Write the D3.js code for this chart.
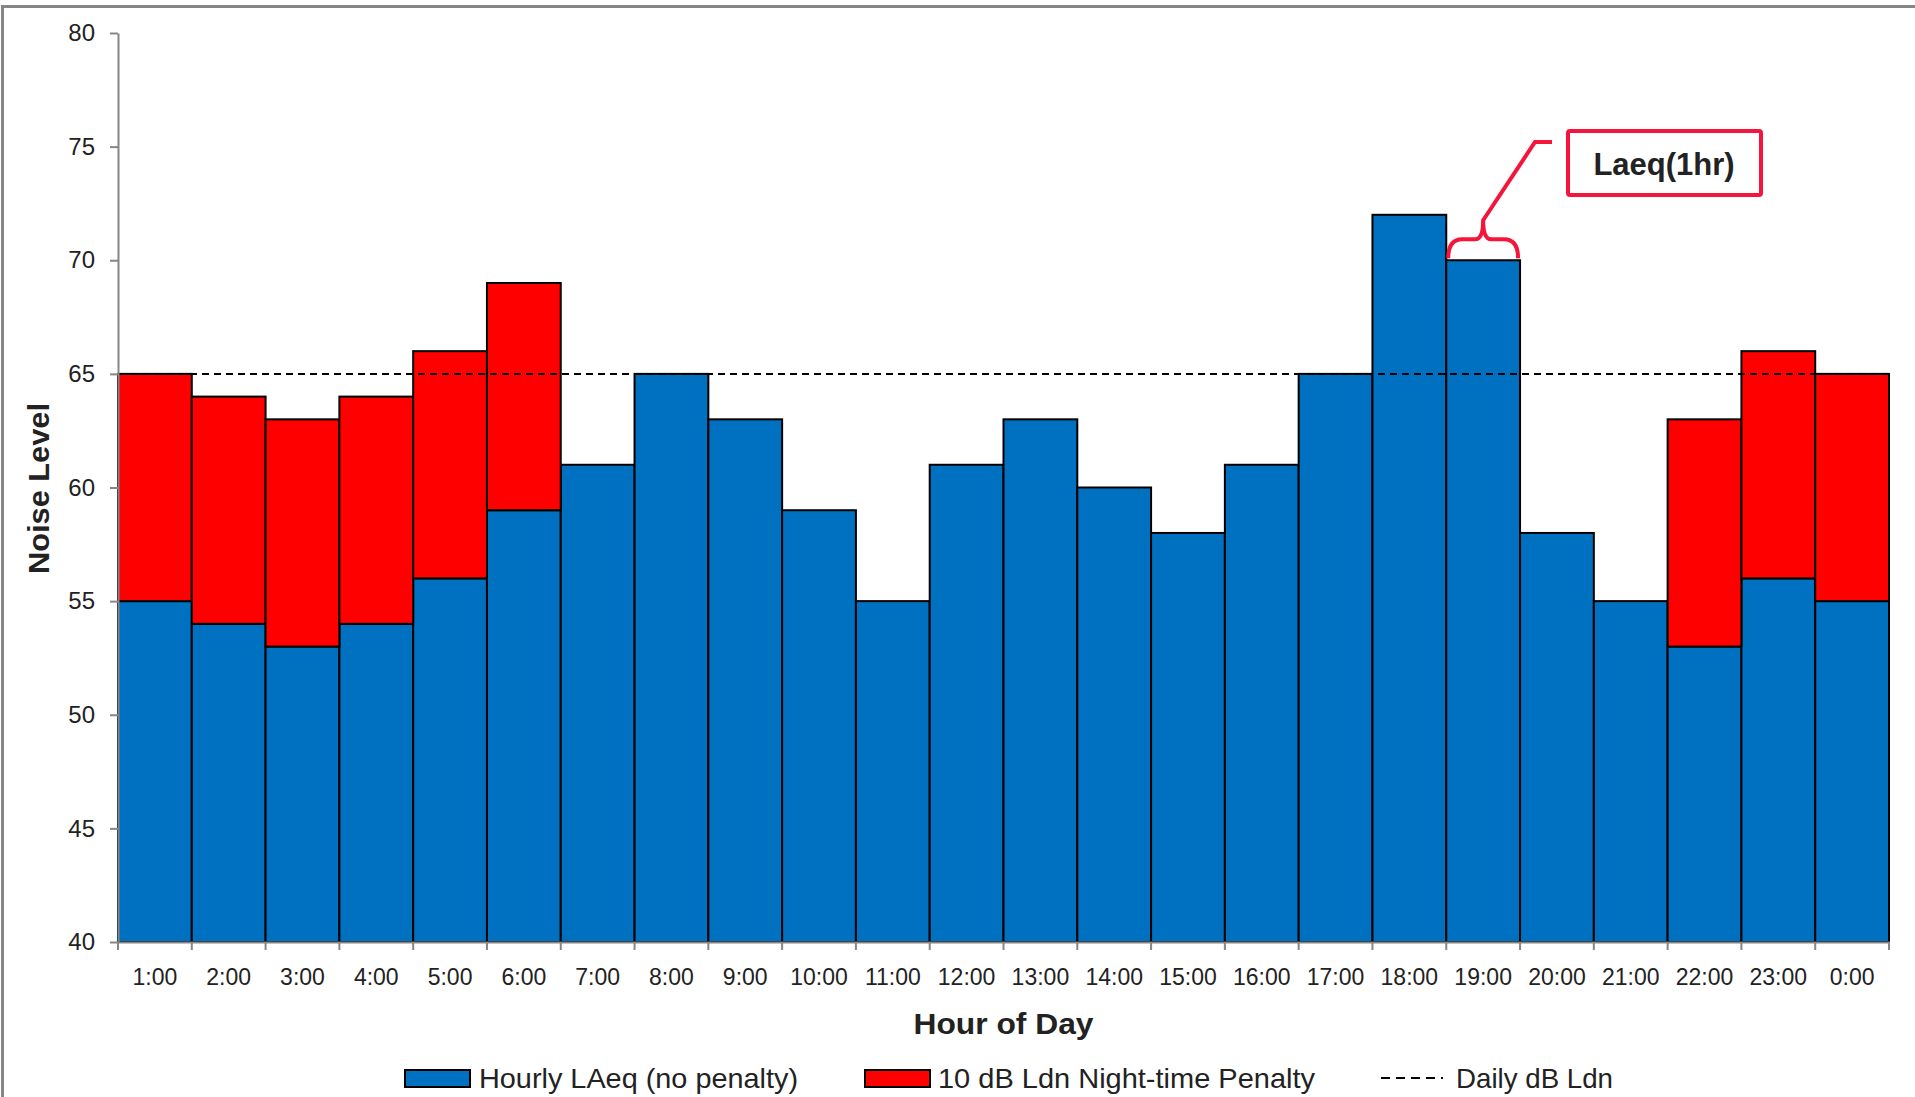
<!DOCTYPE html>
<html>
<head>
<meta charset="utf-8">
<script src="https://cdn.jsdelivr.net/npm/d3@7"></script>
<style>
  html, body { margin: 0; padding: 0; background: #fff; }
  svg { display: block; }
  text { font-family: "Liberation Sans", Arial, sans-serif; fill: #222; }
</style>
</head>
<body>
<div id="chart"></div>
<script>
(function () {
  'use strict';

  // ---- data ----
  var hours = ['1:00', '2:00', '3:00', '4:00', '5:00', '6:00', '7:00', '8:00', '9:00', '10:00',
    '11:00', '12:00', '13:00', '14:00', '15:00', '16:00', '17:00', '18:00', '19:00', '20:00',
    '21:00', '22:00', '23:00', '0:00'];
  var hourlyLaeq = [55, 54, 53, 54, 56, 59, 61, 65, 63, 59, 55, 61, 63, 60, 58, 61, 65, 72, 70, 58, 55, 53, 56, 55];
  var nightPenalty = [10, 10, 10, 10, 10, 10, 0, 0, 0, 0, 0, 0, 0, 0, 0, 0, 0, 0, 0, 0, 0, 10, 10, 10];
  var dailyLdn = 65;
  var yTicks = [40, 45, 50, 55, 60, 65, 70, 75, 80];
  var annotatedHour = '19:00';

  var W = 1915, H = 1097;
  var left = 118, right = 1889, top = 33, bottom = 942;
  var blue = '#0070C0', red = '#FF0000', annoRed = '#F5143C', axisGrey = '#868686';

  var svg = d3.select('#chart').append('svg').attr('width', W).attr('height', H);

  // outer frame
  svg.append('rect').attr('x', 2.5).attr('y', 6.5).attr('width', W + 20).attr('height', H + 20)
    .attr('fill', 'none').attr('stroke', axisGrey).attr('stroke-width', 3);

  var x = d3.scaleBand().domain(hours).range([left, right]).padding(0);
  var y = d3.scaleLinear().domain([40, 80]).range([bottom, top]);

  var rows = hours.map(function (h, i) {
    return { hour: h, base: hourlyLaeq[i], pen: nightPenalty[i] };
  });

  // stacked bars
  var g = svg.append('g');
  g.selectAll('.bar-base').data(rows).enter().append('rect')
    .attr('class', 'bar-base')
    .attr('x', function (d) { return x(d.hour); })
    .attr('y', function (d) { return y(d.base); })
    .attr('width', x.bandwidth())
    .attr('height', function (d) { return y(40) - y(d.base); })
    .attr('fill', blue).attr('stroke', '#000').attr('stroke-width', 2);

  g.selectAll('.bar-pen').data(rows.filter(function (d) { return d.pen > 0; })).enter().append('rect')
    .attr('class', 'bar-pen')
    .attr('x', function (d) { return x(d.hour); })
    .attr('y', function (d) { return y(d.base + d.pen); })
    .attr('width', x.bandwidth())
    .attr('height', function (d) { return y(d.base) - y(d.base + d.pen); })
    .attr('fill', red).attr('stroke', '#000').attr('stroke-width', 2);

  // daily Ldn line
  svg.append('line')
    .attr('x1', left).attr('x2', right)
    .attr('y1', y(dailyLdn)).attr('y2', y(dailyLdn))
    .attr('stroke', '#000').attr('stroke-width', 2).attr('stroke-dasharray', '7,5');

  // y axis
  var yAxis = svg.append('g').attr('transform', 'translate(' + left + ',0)')
    .call(d3.axisLeft(y).tickValues(yTicks).tickSize(8).tickPadding(15).tickSizeOuter(0));
  yAxis.select('.domain').attr('stroke', axisGrey).attr('stroke-width', 2);
  yAxis.selectAll('.tick line').attr('stroke', axisGrey).attr('stroke-width', 2);
  yAxis.selectAll('.tick text').style('font-size', '24px').attr('fill', '#222');

  // x axis
  var xAxis = svg.append('g').attr('transform', 'translate(0,' + bottom + ')')
    .call(d3.axisBottom(x).tickSize(0).tickPadding(27));
  xAxis.select('.domain').attr('stroke', axisGrey).attr('stroke-width', 2);
  xAxis.selectAll('.tick text').style('font-size', '23px').attr('fill', '#222');
  // ticks on bar boundaries
  var bounds = hours.map(function (h) { return x(h); }).concat([right]);
  xAxis.selectAll('.bound').data(bounds).enter().append('line')
    .attr('x1', function (d) { return d; }).attr('x2', function (d) { return d; })
    .attr('y1', 0).attr('y2', 8).attr('stroke', axisGrey).attr('stroke-width', 2);

  // axis titles
  svg.append('text')
    .attr('x', (left + right) / 2).attr('y', 1034)
    .attr('text-anchor', 'middle')
    .attr('textLength', 180).attr('lengthAdjust', 'spacingAndGlyphs')
    .style('font-size', '30px').style('font-weight', 'bold').attr('fill', '#000')
    .text('Hour of Day');

  svg.append('text')
    .attr('transform', 'translate(49,' + ((403 + 574) / 2) + ') rotate(-90)')
    .attr('text-anchor', 'middle')
    .attr('textLength', 171).attr('lengthAdjust', 'spacingAndGlyphs')
    .style('font-size', '30px').style('font-weight', 'bold').attr('fill', '#000')
    .text('Noise Level');

  // legend
  var legend = svg.append('g').attr('transform', 'translate(0,1078)');
  var items = [
    { type: 'box', fill: blue, x: 405, tx: 479, tl: 319, label: 'Hourly LAeq (no penalty)' },
    { type: 'box', fill: red, x: 865, tx: 938, tl: 377, label: '10 dB Ldn Night-time Penalty' },
    { type: 'dash', x: 1381, tx: 1456, tl: 157, label: 'Daily dB Ldn' }
  ];
  items.forEach(function (it) {
    if (it.type === 'box') {
      legend.append('rect').attr('x', it.x).attr('y', -8).attr('width', 65).attr('height', 17)
        .attr('fill', it.fill).attr('stroke', '#000').attr('stroke-width', 2);
    } else {
      legend.append('line').attr('x1', it.x).attr('x2', it.x + 62).attr('y1', 0).attr('y2', 0)
        .attr('stroke', '#000').attr('stroke-width', 2).attr('stroke-dasharray', '9,6');
    }
    legend.append('text').attr('x', it.tx).attr('y', 10)
      .attr('textLength', it.tl).attr('lengthAdjust', 'spacingAndGlyphs')
      .style('font-size', '28px').attr('fill', '#111')
      .text(it.label);
  });

  // annotation: brace over the 19:00 bar, leader, box
  var ax0 = x(annotatedHour) + 2, ax1 = x(annotatedHour) + x.bandwidth() - 2;
  var am = (ax0 + ax1) / 2;
  var yBase = y(hourlyLaeq[hours.indexOf(annotatedHour)]) - 2;
  var yMid = yBase - 19, yTip = yBase - 38;
  var brace = 'M' + ax0 + ',' + yBase +
    ' Q' + ax0 + ',' + yMid + ' ' + (ax0 + 14) + ',' + yMid +
    ' L' + (am - 8) + ',' + yMid +
    ' Q' + am + ',' + yMid + ' ' + am + ',' + yTip +
    ' Q' + am + ',' + yMid + ' ' + (am + 8) + ',' + yMid +
    ' L' + (ax1 - 14) + ',' + yMid +
    ' Q' + ax1 + ',' + yMid + ' ' + ax1 + ',' + yBase;
  svg.append('path').attr('d', brace).attr('fill', 'none')
    .attr('stroke', annoRed).attr('stroke-width', 4).attr('stroke-linejoin', 'round');
  svg.append('path')
    .attr('d', 'M' + am + ',' + yTip + ' L1535,142 L1552,142')
    .attr('fill', 'none').attr('stroke', annoRed).attr('stroke-width', 4);
  svg.append('rect').attr('x', 1568).attr('y', 131).attr('width', 193).attr('height', 64).attr('rx', 2)
    .attr('fill', '#fff').attr('stroke', annoRed).attr('stroke-width', 4);
  svg.append('text').attr('x', 1664).attr('y', 175).attr('text-anchor', 'middle')
    .style('font-size', '31px').style('font-weight', 'bold').attr('fill', '#333')
    .text('Laeq(1hr)');
})();
</script>
</body>
</html>
